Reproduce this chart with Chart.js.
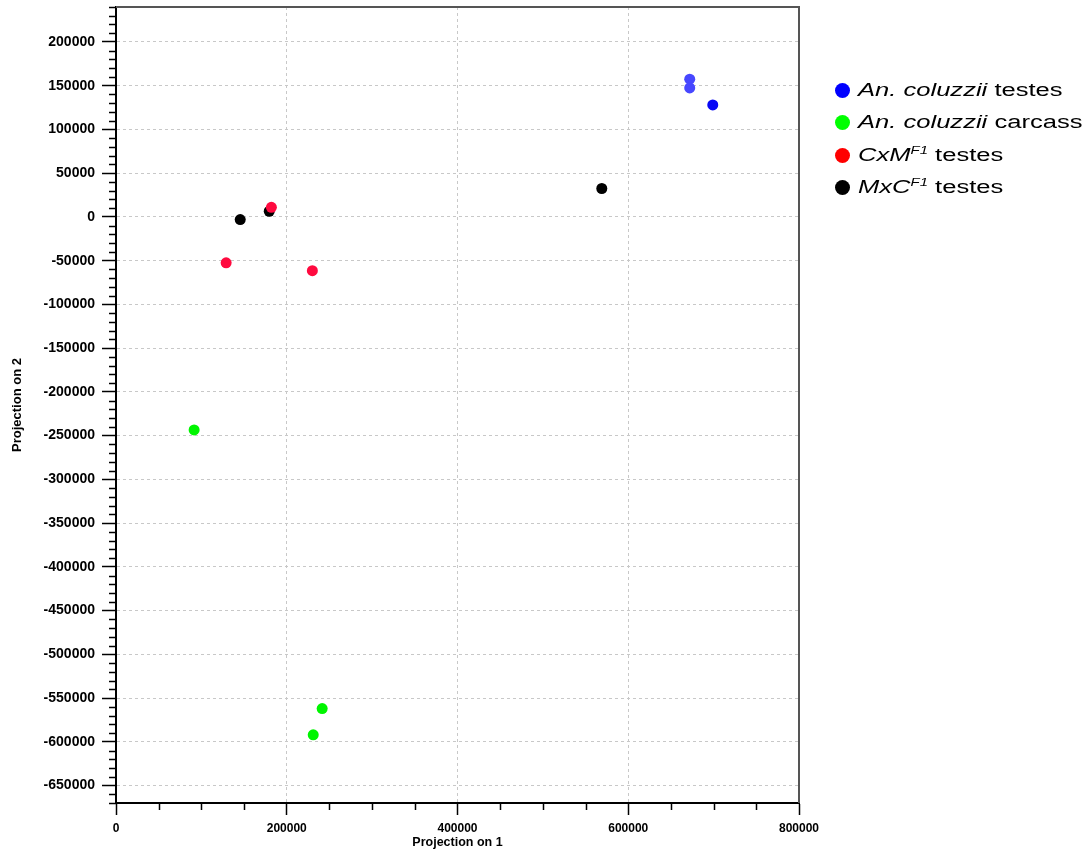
<!DOCTYPE html>
<html>
<head>
<meta charset="utf-8">
<script src="https://cdn.jsdelivr.net/npm/chart.js@4.4.1/dist/chart.umd.min.js"></script>
<style>
  html, body { margin: 0; padding: 0; background: #fff; }
  #wrap { position: relative; width: 1091px; height: 854px; }
  #legend { position: absolute; left: 835px; top: 74px; font-family: 'Liberation Sans', Arial, sans-serif; font-size: 18px; color: #000; }
  #legend .row { height: 32.5px; display: flex; align-items: center; }
  #legend .dot { width: 15px; height: 15px; border-radius: 50%; margin-right: 8px; flex: none; }
  #legend .txt { display: inline-block; transform: scaleX(1.42); transform-origin: left center; white-space: nowrap; }
  #legend sup { font-size: 10.5px; font-style: italic; vertical-align: 7px; line-height: 0; }
</style>
</head>
<body>
<div id="wrap">
  <canvas id="c" width="1091" height="854"></canvas>
  <div id="legend">
    <div class="row"><span class="dot" style="background:#0000ff"></span><span class="txt"><i>An. coluzzii</i> testes</span></div>
    <div class="row"><span class="dot" style="background:#00ff00"></span><span class="txt"><i>An. coluzzii</i> carcass</span></div>
    <div class="row"><span class="dot" style="background:#ff0000"></span><span class="txt"><i>CxM</i><sup>F1</sup> testes</span></div>
    <div class="row"><span class="dot" style="background:#000000"></span><span class="txt"><i>MxC</i><sup>F1</sup> testes</span></div>
  </div>
</div>
<script>
// projection coordinates
const testesX = [672000, 672000, 699000];
const testesY = [157500, 147500, 128000];
const carcassX = [91500, 241500, 231000];
const carcassY = [-243500, -562000, -592000];
const cxmX = [129000, 230000, 182000];
const cxmY = [-52500, -61500, 11000];
const mxcX = [145500, 179500, 569000];
const mxcY = [-3000, 6500, 32500];

const xTicks = [0, 200000, 400000, 600000, 800000];
const yTicks = [-650000, -600000, -550000, -500000, -450000, -400000, -350000, -300000, -250000, -200000,
  -150000, -100000, -50000, 0, 50000, 100000, 150000, 200000];

const xMin = 0, xMax = 800000, xMinor = 50000;
const yMin = -670000, yMax = 240000, yMinor = 10000;

const pts = (xs, ys) => xs.map((x, i) => ({ x, y: ys[i] }));

// minor ticks + top/right frame
const frame = {
  id: 'frame',
  afterDraw(chart) {
    const { ctx, chartArea: a, scales } = chart;
    ctx.save();
    ctx.strokeStyle = '#000';
    ctx.lineWidth = 1.5;
    ctx.beginPath();
    for (let v = Math.ceil(yMin / yMinor) * yMinor; v <= yMax; v += yMinor) {
      if (yTicks.includes(v)) continue;
      const y = Math.round(scales.y.getPixelForValue(v)) + 0.5;
      ctx.moveTo(a.left - 7, y); ctx.lineTo(a.left, y);
    }
    for (let v = xMin; v <= xMax; v += xMinor) {
      if (xTicks.includes(v)) continue;
      const x = Math.round(scales.x.getPixelForValue(v)) + 0.5;
      ctx.moveTo(x, a.bottom); ctx.lineTo(x, a.bottom + 7);
    }
    ctx.stroke();
    ctx.strokeStyle = '#555';
    ctx.lineWidth = 2;
    ctx.beginPath();
    ctx.moveTo(a.left, a.top); ctx.lineTo(a.right, a.top); ctx.lineTo(a.right, a.bottom);
    ctx.stroke();
    ctx.restore();
  }
};

const sans = "'Liberation Sans', Arial, sans-serif";
const setTicks = (list) => (s) => { s.ticks = list.map((value) => ({ value })); };

new Chart(document.getElementById('c'), {
  type: 'scatter',
  data: {
    datasets: [
      { label: 'An. coluzzii testes', data: pts(testesX, testesY), backgroundColor: ['#4747ff', '#4747ff', '#0808f5'] },
      { label: 'An. coluzzii carcass', data: pts(carcassX, carcassY), backgroundColor: '#00f500' },
      { label: 'CxM F1 testes', data: pts(cxmX, cxmY), backgroundColor: '#ff0a3f' },
      { label: 'MxC F1 testes', data: pts(mxcX, mxcY), backgroundColor: '#000' },
    ]
  },
  options: {
    responsive: false,
    animation: false,
    layout: { padding: { left: 0, right: 292, top: 7, bottom: 0 } },
    elements: { point: { radius: 5.5, borderWidth: 0, hoverRadius: 6 } },
    plugins: { legend: { display: false }, tooltip: { enabled: false } },
    scales: {
      x: {
        type: 'linear', min: xMin, max: xMax,
        afterBuildTicks: setTicks(xTicks),
        afterFit: (s) => { s.height = 51; s.paddingLeft = 0; s.paddingRight = 0; },
        ticks: { color: '#000', padding: 6, maxRotation: 0, callback: (v) => String(v),
                 font: { family: sans, size: 12, weight: 'bold' } },
        grid: { color: '#c8c8c8', tickColor: '#000', tickLength: 12, tickWidth: 1.5 },
        border: { display: true, color: '#000', width: 2, dash: [3, 3] },
        title: { display: true, text: 'Projection on 1', color: '#000', padding: { top: 0, bottom: 4 },
                 font: { family: sans, size: 12.5, weight: 'bold' } },
      },
      y: {
        type: 'linear', min: yMin, max: yMax,
        afterBuildTicks: setTicks(yTicks),
        afterFit: (s) => { s.width = 116; s.paddingTop = 0; s.paddingBottom = 0; },
        ticks: { color: '#000', padding: 7, callback: (v) => String(v),
                 font: { family: sans, size: 14, weight: 'bold' } },
        grid: { color: '#c8c8c8', tickColor: '#000', tickLength: 14, tickWidth: 1.5 },
        border: { display: true, color: '#000', width: 2, dash: [3, 3] },
        title: { display: true, text: 'Projection on 2', color: '#000', padding: { top: 10, bottom: 0 },
                 font: { family: sans, size: 13, weight: 'bold' } },
      }
    }
  },
  plugins: [frame]
});
</script>
</body>
</html>
